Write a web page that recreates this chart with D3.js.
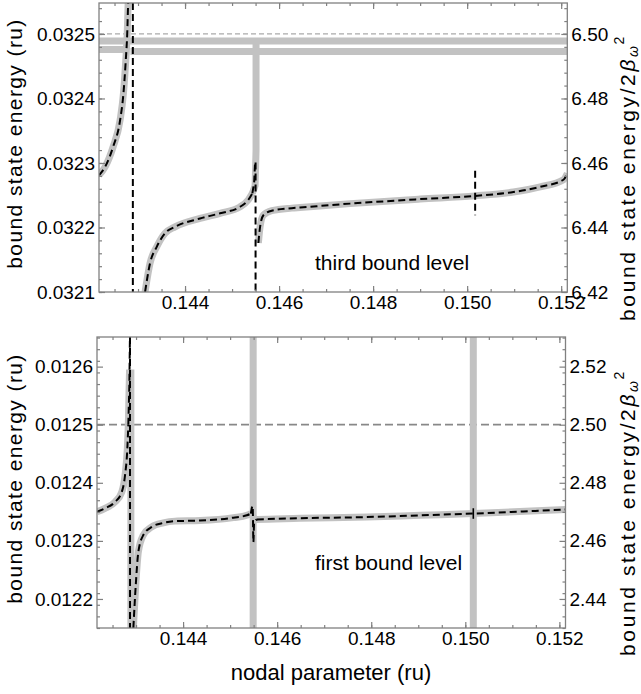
<!DOCTYPE html>
<html>
<head>
<meta charset="utf-8">
<script src="https://cdn.jsdelivr.net/npm/d3@7/dist/d3.min.js"></script>
<style>
  body { margin: 0; background: #fff; }
  svg text { font-family: "Liberation Sans", Arial, sans-serif; fill: #000; }
</style>
</head>
<body>
<div id="viz-body"></div>
<script>
// nodal parameter axis (ru)
var xTicks = [0.144, 0.146, 0.148, 0.150, 0.152];
var xDomain = [0.14217, 0.15213];
// energy / 2 beta_w^2  ->  factor between left and right axis
var scaleFactor = 200;

// ---- third bound level (energies in ru) ----
var thirdTicks = [0.0321, 0.0322, 0.0323, 0.0324, 0.0325];
var thirdTicksRight = [6.42, 6.44, 6.46, 6.48, 6.50];
var thirdThreshold = 0.0325;
var thirdBranchLeft = [[0.14217, 0.032281], [0.14230, 0.032294], [0.14247, 0.032325], [0.14262, 0.032367],
    [0.14269, 0.032408], [0.14274, 0.03246], [0.14277, 0.0325], [0.14279, 0.032548], [0.14281, 0.03258]];
var thirdBranchMid = [[0.14315, 0.0321], [0.143255, 0.0321445], [0.143398, 0.03217], [0.143574, 0.032191],
    [0.143787, 0.032201], [0.144319, 0.032214], [0.144745, 0.032222], [0.14517, 0.032232],
    [0.145347, 0.032243], [0.145432, 0.032253]];
var thirdGreySpike = [[0.145432, 0.032253], [0.14549, 0.032265], [0.14551, 0.03232], [0.14551, 0.032489]];
var thirdDashSpike = [[0.145432, 0.032253], [0.14547, 0.03227], [0.14549, 0.032302], [0.1455, 0.032302], [0.1455, 0.0321]];
var thirdBranchRight = [[0.14556, 0.032176], [0.145596, 0.032201], [0.145666, 0.032219], [0.145844, 0.032226],
    [0.14627, 0.03223], [0.146447, 0.032231], [0.147511, 0.032237], [0.149, 0.032244], [0.15017, 0.032249],
    [0.150985, 0.032255], [0.151553, 0.032263], [0.152049, 0.032274], [0.15213, 0.032284]];
var thirdGreyBands = [
    [[0.14217, 0.032489], [0.15213, 0.032489]],
    [[0.14217, 0.032476], [0.14276, 0.032476]],
    [[0.14284, 0.032473], [0.15213, 0.032473]]
];
var thirdDashVerticals = [
    [[0.14289, 0.032548], [0.14289, 0.0321]],
    [[0.15017, 0.032288], [0.15017, 0.032219]]
];

// ---- first bound level (energies in ru) ----
var firstTicks = [0.0122, 0.0123, 0.0124, 0.0125, 0.0126];
var firstTicksRight = [2.44, 2.46, 2.48, 2.50, 2.52];
var firstThreshold = 0.0125;
var firstBranchLeft = [[0.14217, 0.01235], [0.14234, 0.012356], [0.142553, 0.012367], [0.142696, 0.012384],
    [0.142766, 0.012413], [0.142815, 0.012459], [0.142836, 0.0125]];
var firstGreySpike = [[0.142836, 0.0125], [0.14286, 0.012589], [0.14289, 0.012589], [0.14289, 0.01215]];
var firstDashTop = [[0.142836, 0.0125], [0.142858, 0.012568], [0.14287, 0.012651]];
var firstBranchRight = [[0.142943, 0.01215], [0.142994, 0.012224], [0.143049, 0.012281], [0.143155, 0.01231],
    [0.143334, 0.012324], [0.143581, 0.012331], [0.14383, 0.012334], [0.144362, 0.012335],
    [0.14507, 0.01234], [0.145355, 0.012344], [0.14544, 0.012347]];
var firstDashWiggle = [[0.14544, 0.012347], [0.14548, 0.01236], [0.145495, 0.012298], [0.14551, 0.01233], [0.145568, 0.012337]];
var firstBranchFar = [[0.14544, 0.012347], [0.145568, 0.012337], [0.14649, 0.012339], [0.147909, 0.012341],
    [0.149043, 0.012344], [0.15017, 0.012347], [0.15213, 0.012354]];
var firstGreyVerticals = [0.14549, 0.15017];
var firstDashVerticals = [
    [[0.142872, 0.012651], [0.142872, 0.01215]]
];
var firstCross = [[0.15017, 0.012356], [0.15017, 0.012338]];

var grey = "#c2c2c2", frameColor = "#808080";

const svg = d3.select("#viz-body").append("svg")
    .attr("width", 641)
    .attr("height", 694);

function drawPanel(p) {
    const x = d3.scaleLinear().domain(xDomain).range([p.left, p.right]);
    const y = d3.scaleLinear().domain(p.yDomain).range([p.bottom, p.top]);
    const yR = d3.scaleLinear().domain(p.yDomain.map(v => v * scaleFactor)).range([p.bottom, p.top]);

    const g = svg.append("g");

    // clip the curves to the frame
    g.append("clipPath").attr("id", p.id + "-clip")
        .append("rect")
        .attr("x", p.left).attr("y", p.top)
        .attr("width", p.right - p.left).attr("height", p.bottom - p.top);
    const plot = g.append("g").attr("clip-path", "url(#" + p.id + "-clip)");

    const smooth = d3.line().x(d => x(d[0])).y(d => y(d[1])).curve(d3.curveMonotoneX);
    const straight = d3.line().x(d => x(d[0])).y(d => y(d[1]));

    // threshold
    plot.append("line")
        .attr("x1", p.left).attr("x2", p.right)
        .attr("y1", y(p.threshold)).attr("y2", y(p.threshold))
        .attr("stroke", p.thresholdColor)
        .attr("stroke-width", p.thresholdWidth)
        .attr("stroke-dasharray", p.thresholdDash);

    // grey (exact) curves
    p.greySmooth.forEach(s => plot.append("path").attr("d", smooth(s))
        .attr("fill", "none").attr("stroke", grey).attr("stroke-width", 7));
    p.greyStraight.forEach(s => plot.append("path").attr("d", straight(s))
        .attr("fill", "none").attr("stroke", grey).attr("stroke-width", 7));

    // black dashed (approximation)
    p.dashSmooth.forEach(s => plot.append("path").attr("d", smooth(s))
        .attr("fill", "none").attr("stroke", "#000").attr("stroke-width", 2).attr("stroke-dasharray", "7,4"));
    p.dashStraight.forEach(s => plot.append("path").attr("d", straight(s))
        .attr("fill", "none").attr("stroke", "#000").attr("stroke-width", 2).attr("stroke-dasharray", "7,4"));
    p.solid.forEach(s => plot.append("path").attr("d", straight(s))
        .attr("fill", "none").attr("stroke", "#000").attr("stroke-width", 1.6));

    // axes, ticks pointing inwards
    const xMinor = d3.range(0.1425, 0.1522, 0.0005);
    const yMinor = d3.range(p.yDomain[0], p.yDomain[1], 0.00002);

    function tickAxis(axis, tx, ty) {
        const a = g.append("g").attr("transform", "translate(" + tx + "," + ty + ")").call(axis);
        a.select(".domain").remove();
        a.selectAll("line").attr("stroke", frameColor).attr("stroke-width", 1.2);
        a.selectAll("text").style("font-size", "19px").attr("fill", "#000");
        return a;
    }
    tickAxis(d3.axisBottom(x).tickValues(xTicks).tickSize(-6).tickPadding(4).tickFormat(d3.format(".3f")), 0, p.bottom);
    tickAxis(d3.axisBottom(x).tickValues(xMinor).tickSize(-3).tickFormat(""), 0, p.bottom);
    tickAxis(d3.axisTop(x).tickValues(xTicks).tickSize(-6).tickFormat(""), 0, p.top);
    tickAxis(d3.axisTop(x).tickValues(xMinor).tickSize(-3).tickFormat(""), 0, p.top);
    tickAxis(d3.axisLeft(y).tickValues(p.ticks).tickSize(-6).tickPadding(4).tickFormat(d3.format(".4f")), p.left, 0);
    tickAxis(d3.axisLeft(y).tickValues(yMinor).tickSize(-3).tickFormat(""), p.left, 0);
    tickAxis(d3.axisRight(yR).tickValues(p.ticksRight).tickSize(-6).tickPadding(4).tickFormat(d3.format(".2f")), p.right, 0);
    tickAxis(d3.axisRight(y).tickValues(yMinor).tickSize(-3).tickFormat(""), p.right, 0);

    // frame
    g.append("rect")
        .attr("x", p.left).attr("y", p.top)
        .attr("width", p.right - p.left).attr("height", p.bottom - p.top)
        .attr("fill", "none").attr("stroke", frameColor).attr("stroke-width", 1.3);

    // axis titles
    const mid = (p.top + p.bottom) / 2;
    g.append("text")
        .attr("transform", "translate(22," + (mid - 4) + ") rotate(-90)")
        .attr("text-anchor", "middle")
        .style("font-size", "21px")
        .style("letter-spacing", "1.4px")
        .text("bound state energy (ru)");
    const rt = g.append("text")
        .attr("transform", "translate(635," + (mid + 30) + ") rotate(-90)")
        .attr("text-anchor", "middle")
        .style("font-size", "21px")
        .style("letter-spacing", "2.6px");
    rt.append("tspan").text("bound state energy/2");
    rt.append("tspan").style("font-style", "italic").text("β");
    rt.append("tspan").attr("dy", 3).style("font-size", "14px").style("font-style", "italic").text("ω");
    rt.append("tspan").attr("dy", -14).attr("dx", -1).style("font-size", "14px").text("2");

    // panel caption
    g.append("text")
        .attr("x", 315).attr("y", p.captionY)
        .style("font-size", "21px")
        .text(p.caption);
}

drawPanel({
    id: "third", left: 99, right: 567.3, top: 3, bottom: 292,
    yDomain: [0.0321, 0.032548], ticks: thirdTicks, ticksRight: thirdTicksRight,
    threshold: thirdThreshold, thresholdColor: "#aaaaaa", thresholdWidth: 1.2, thresholdDash: "5,3",
    greySmooth: [thirdBranchLeft, thirdBranchMid, thirdBranchRight],
    greyStraight: thirdGreyBands.concat([thirdGreySpike]),
    dashSmooth: [thirdBranchLeft, thirdBranchMid, thirdBranchRight],
    dashStraight: thirdDashVerticals.concat([thirdDashSpike]),
    solid: [],
    caption: "third bound level", captionY: 270
});

drawPanel({
    id: "first", left: 97, right: 565.5, top: 337, bottom: 628,
    yDomain: [0.01215, 0.012651], ticks: firstTicks, ticksRight: firstTicksRight,
    threshold: firstThreshold, thresholdColor: "#888888", thresholdWidth: 1.8, thresholdDash: "8,4",
    greySmooth: [firstBranchLeft, firstBranchRight, firstBranchFar],
    greyStraight: [firstGreySpike].concat(firstGreyVerticals.map(v => [[v, 0.01215], [v, 0.012651]])),
    dashSmooth: [firstBranchLeft, firstBranchRight, firstDashWiggle, firstBranchFar.slice(1)],
    dashStraight: firstDashVerticals.concat([firstDashTop]),
    solid: [firstCross],
    caption: "first bound level", captionY: 570
});

// x axis title
svg.append("text")
    .attr("x", 331).attr("y", 680)
    .attr("text-anchor", "middle")
    .style("font-size", "22px")
    .text("nodal parameter (ru)");
</script>
</body>
</html>
